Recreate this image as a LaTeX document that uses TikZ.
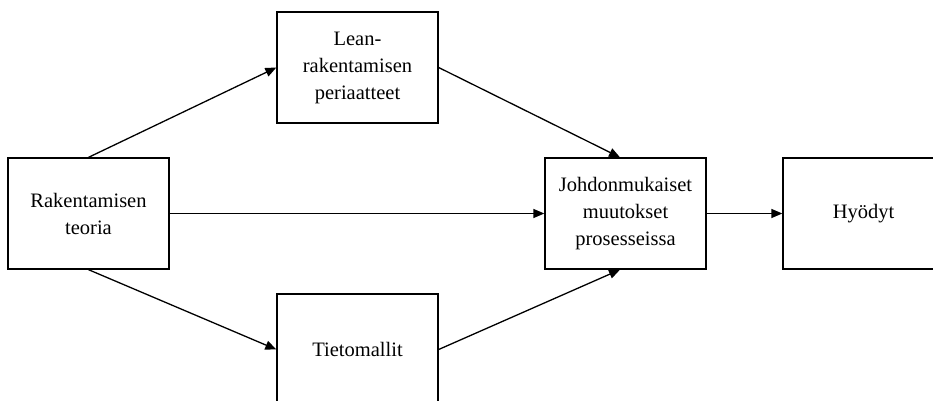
\documentclass[tikz,border=0pt]{standalone}
\usepackage{fontspec}
\setmainfont{Liberation Serif}
\usetikzlibrary{arrows.meta}
\begin{document}
\begin{tikzpicture}[x=1pt,y=-1pt,
  box/.style={draw, line width=1.3pt, minimum width=161pt, minimum height=111pt,
    inner sep=0pt, align=center, font=\fontsize{20.5}{27}\selectfont},
  flow/.style={line width=1.3pt, -{Triangle[length=11pt,width=9pt]}}]
  \useasboundingbox (0,0) rectangle (933,400);
  \clip (0,0) rectangle (933,400);
  % boxes
  \node[box] (rak)   at (88.5,213.5)  {Rakentamisen\\teoria};
  \node[box] (lean)  at (357.5,67.5)  {Lean-\\rakentamisen\\periaatteet};
  \node[box] (tieto) at (357.5,349.5) {Tietomallit};
  \node[box] (joh)   at (625.5,213.5) {Johdonmukaiset\\muutokset\\prosesseissa};
  \node[box] (hyo)   at (863.5,213.5) {Hyödyt};
  % connectors
  \draw[flow] (rak.north) -- (lean.west);
  \draw[flow] (rak.south) -- (tieto.west);
  \draw[flow] (rak.east) -- (joh.west);
  \draw[flow] (lean.east) -- ([xshift=-5.5pt]joh.north);
  \draw[flow] (tieto.east) -- ([xshift=-5.5pt]joh.south);
  \draw[flow] (joh.east) -- (hyo.west);
\end{tikzpicture}
\end{document}
